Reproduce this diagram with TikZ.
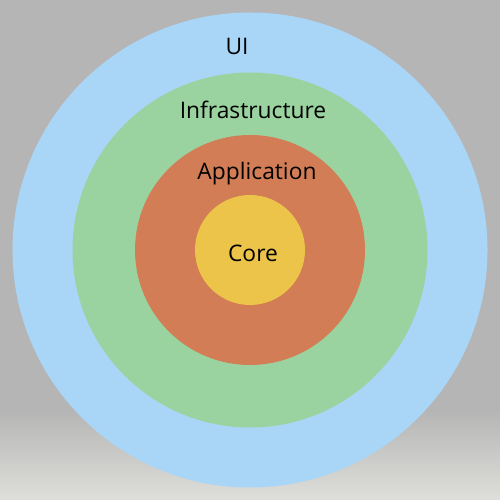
\documentclass[tikz,border=0pt]{standalone}
\usepackage{fontspec}
\setmainfont{Open Sans}
\definecolor{bggray}{RGB}{181,181,181}
\definecolor{bglight}{RGB}{222,222,218}
\definecolor{uiblue}{RGB}{169,214,247}
\definecolor{infgreen}{RGB}{155,211,160}
\definecolor{apporange}{RGB}{210,125,85}
\definecolor{coreyellow}{RGB}{236,196,74}
\begin{document}
\begin{tikzpicture}[x=1pt,y=1pt,
  ring/.style={circle,inner sep=0pt,minimum size=#1},
  lbl/.style={font=\fontsize{22.8}{26}\selectfont,text=black,inner sep=0pt}]
\useasboundingbox (0,0) rectangle (500,500);
\fill[bggray] (0,0) rectangle (500,500);
\shade[bottom color=bglight,top color=bggray] (0,0) rectangle (500,90);
\node[ring=475pt,fill=uiblue] (ui) at (250,250) {};
\node[ring=355pt,fill=infgreen] (inf) at (250,250) {};
\node[ring=230pt,fill=apporange] (app) at (250,250) {};
\node[ring=110pt,fill=coreyellow] (core) at (250,250) {};
\node[lbl] (tui) at (237,454) {UI};
\node[lbl] (tinf) at (253,390) {Infrastructure};
\node[lbl] (tapp) at (257,326) {Application};
\node[lbl] (tcore) at (253,247) {Core};
\end{tikzpicture}
\end{document}
